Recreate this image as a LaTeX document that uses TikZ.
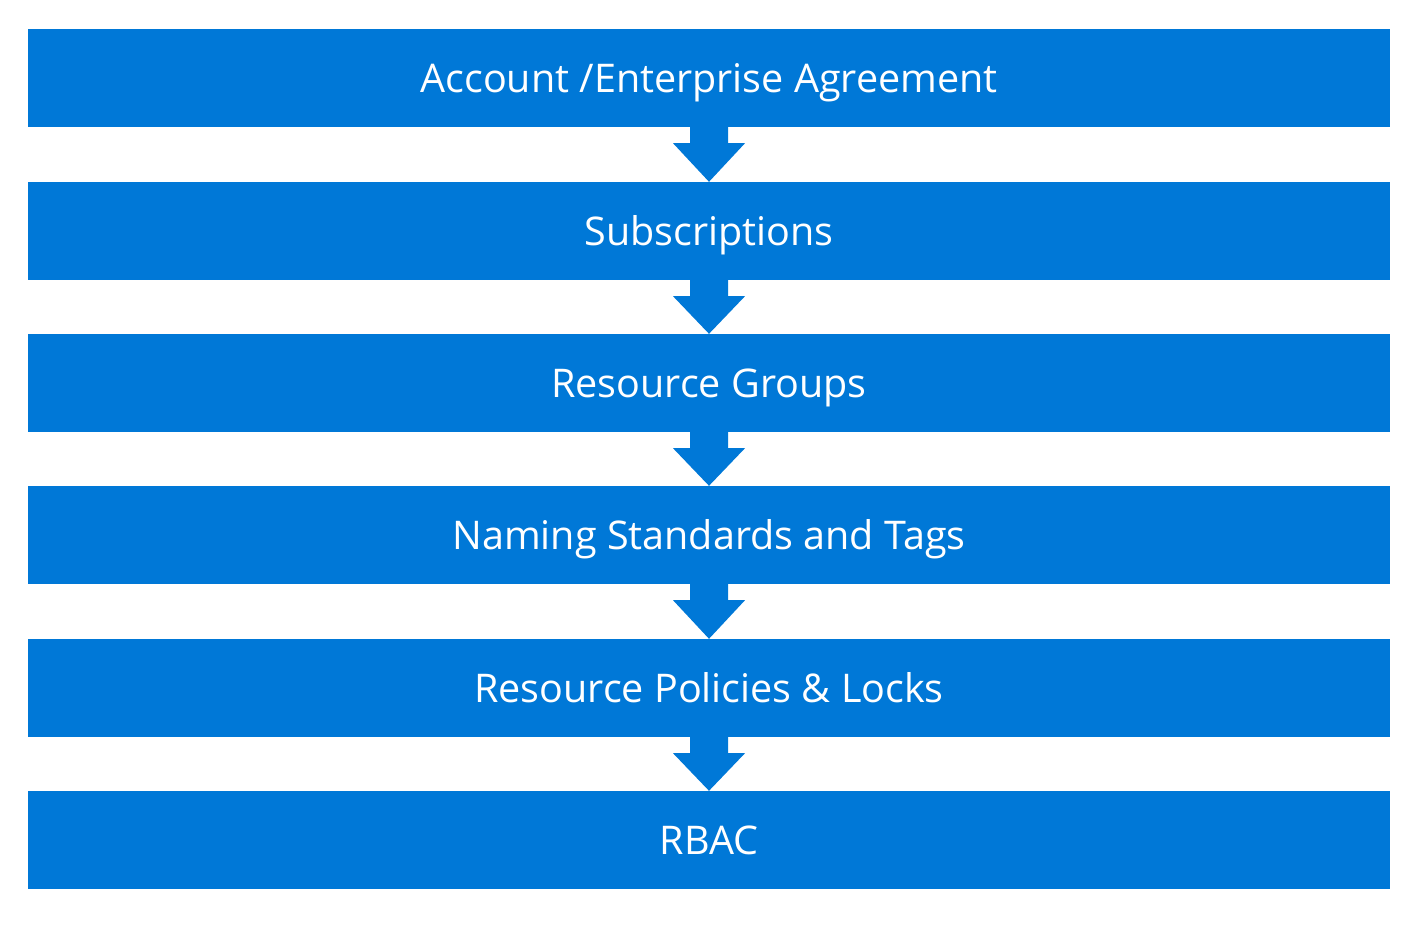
\documentclass[tikz,border=0pt]{standalone}
\usepackage{fontspec}
\setmainfont{Open Sans}
\usetikzlibrary{calc}
\definecolor{tierblue}{HTML}{0078D7}
\begin{document}
\begin{tikzpicture}[x=1pt, y=1pt,
		tier/.style = {fill=tierblue, text=white, minimum width=1362pt, minimum height=98pt, inner sep=0pt,
			text height=28.5pt, text depth=0pt, font=\fontsize{39.5}{42}\selectfont},
		down/.style = {fill=tierblue}]
			\useasboundingbox (0,0) rectangle (1423,-928);
			\node[tier] (1) at (709,-78) {Account /Enterprise Agreement};
			\node[tier] (2) at (709,-231) {Subscriptions};
			\node[tier] (3) at (709,-383) {Resource Groups};
			\node[tier] (4) at (709,-535) {Naming Standards and Tags};
			\node[tier] (5) at (709,-688) {Resource Policies \& Locks};
			\node[tier] (6) at (709,-840) {RBAC};
			\foreach \a/\b in {1/2, 2/3, 3/4, 4/5, 5/6}
				\fill[down] ($(\a.south)+(-19,0)$) -- ($(\a.south)+(-19,-16)$) -- ($(\a.south)+(-36,-16)$)
					-- (\b.north) -- ($(\a.south)+(36,-16)$) -- ($(\a.south)+(19,-16)$) -- ($(\a.south)+(19,0)$) -- cycle;
		\end{tikzpicture}
\end{document}
